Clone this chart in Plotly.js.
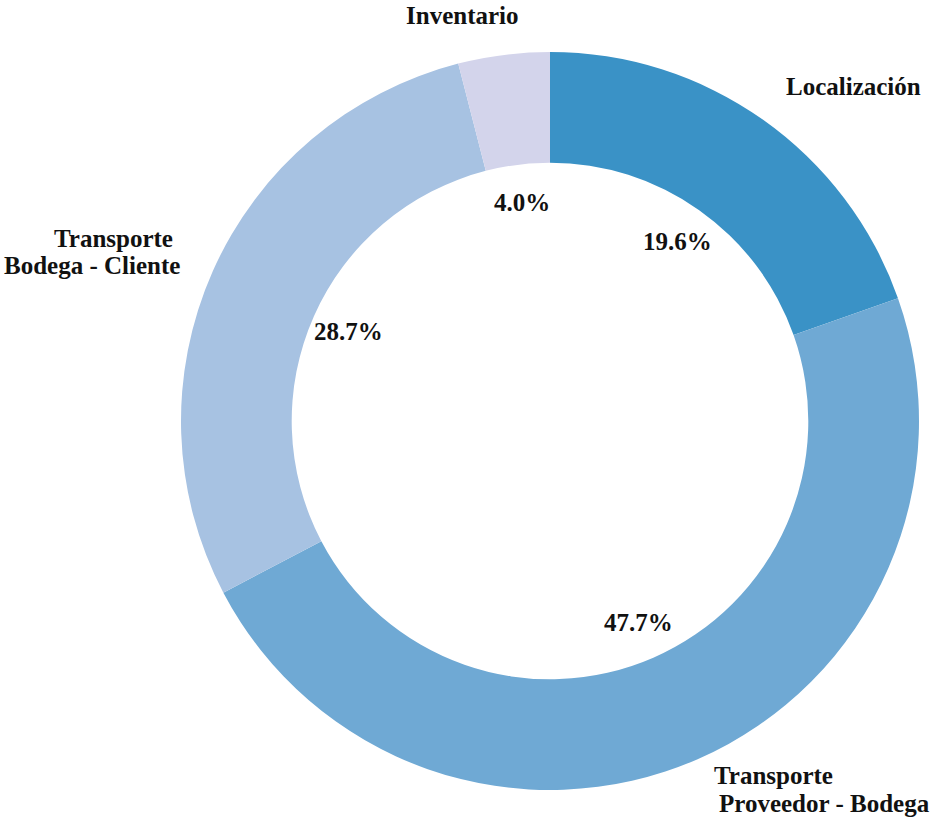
<!DOCTYPE html>
<html>
<head>
<meta charset="utf-8">
<script src="https://cdn.plot.ly/plotly-3.0.1.min.js"></script>
<style>html,body{margin:0;padding:0;background:#fff}#chart{width:935px;height:819px}</style>
</head>
<body>
<div id="chart"></div>
<script>
const categories = ["Localización", "Transporte Proveedor - Bodega", "Transporte Bodega - Cliente", "Inventario"];
const labelLines = [["Localización"], ["Transporte", "Proveedor - Bodega"], ["Transporte", "Bodega - Cliente"], ["Inventario"]];
const values = [19.6, 47.7, 28.7, 4.0];
const percentLabels = ["19.6%", "47.7%", "28.7%", "4.0%"];
const colors = ["#3a92c6", "#6fa9d4", "#a7c2e2", "#d3d4eb"];

const W = 935, H = 819;
const cx = 550, cy = 421, R = 369;
const font = {family: "'Liberation Serif', 'Times New Roman', serif", size: 25, color: "#111"};

const total = values.reduce((a, b) => a + b, 0);
const annotations = [];
let cum = 0;
const rText = 220;
values.forEach((v, i) => {
  const mid = (cum + v / 2) / total * 2 * Math.PI;
  cum += v;
  const px = cx + rText * Math.sin(mid);
  const py = cy - rText * Math.cos(mid);
  annotations.push({x: px / W, y: 1 - py / H, xref: "paper", yref: "paper",
    text: "<b>" + percentLabels[i] + "</b>", showarrow: false, font: font,
    xanchor: "center", yanchor: "middle"});
});

// category label anchor positions (one per line)
const catPos = [
  [{x: 853, y: 87, xa: "center"}],
  [{x: 713, y: 775, xa: "left"}, {x: 718, y: 803, xa: "left"}],
  [{x: 174, y: 238, xa: "right"}, {x: 181, y: 266, xa: "right"}],
  [{x: 462, y: 15, xa: "center"}]
];
labelLines.forEach((lines, i) => {
  lines.forEach((ln, j) => {
    const p = catPos[i][j];
    annotations.push({x: p.x / W, y: 1 - p.y / H, xref: "paper", yref: "paper",
      text: "<b>" + ln + "</b>", showarrow: false, font: font,
      xanchor: p.xa, yanchor: "middle", borderpad: 0});
  });
});

const trace = {
  type: "pie",
  labels: categories,
  values: values,
  hole: 0.70,
  sort: false,
  direction: "clockwise",
  rotation: 0,
  marker: {colors: colors, line: {width: 0}},
  textinfo: "none",
  hoverinfo: "label+percent",
  domain: {x: [(cx - R) / W, (cx + R) / W], y: [(H - cy - R) / H, (H - cy + R) / H]}
};

const layout = {
  width: W, height: H,
  margin: {l: 0, r: 0, t: 0, b: 0},
  showlegend: false,
  paper_bgcolor: "#fff",
  annotations: annotations
};

Plotly.newPlot("chart", [trace], layout, {displayModeBar: false, staticPlot: true});
</script>
</body>
</html>
